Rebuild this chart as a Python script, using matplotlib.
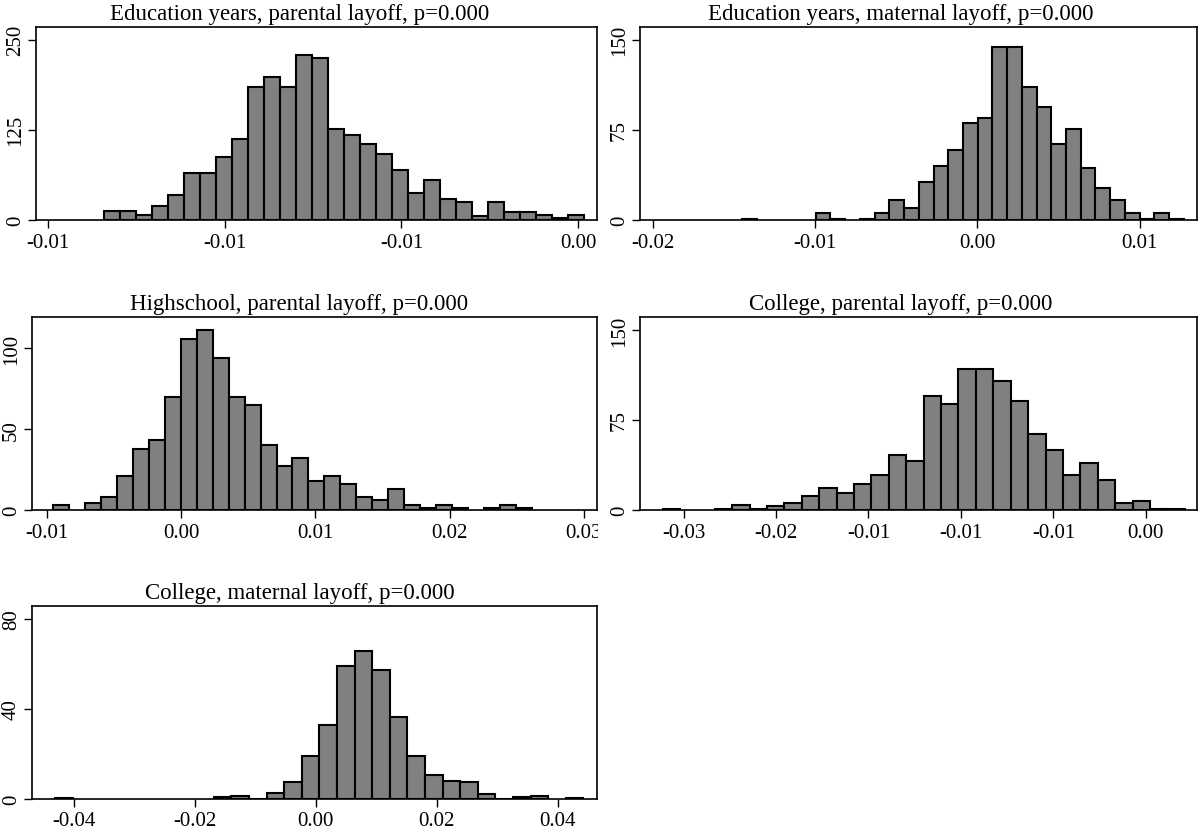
import matplotlib
matplotlib.use("Agg")
import matplotlib.pyplot as plt
import numpy as np
from matplotlib.transforms import Bbox, TransformedBbox

plt.rcParams['font.family'] = ['Liberation Serif', 'DejaVu Serif']

# ---------------- data ----------------
titles = [
    "Education years, parental layoff, p=0.000",
    "Education years, maternal layoff, p=0.000",
    "Highschool, parental layoff, p=0.000",
    "College, parental layoff, p=0.000",
    "College, maternal layoff, p=0.000",
]

# Panel 1: Education years, parental layoff
edu_par_counts = [12, 12, 7, 20, 34, 65, 65, 87, 113, 184, 198, 184, 229, 225, 126,
                  118, 105, 92, 69, 38, 56, 29, 25, 6, 25, 11, 11, 7, 3, 7]
edu_par_start, edu_par_width = -0.013402, 0.0004522
edu_par_xticks = [-0.015, -0.010, -0.005, 0.0]
edu_par_xlabels = ["-0.01", "-0.01", "-0.01", "0.00"]
edu_par_yticks = [0, 125, 250]
edu_par_xlim, edu_par_ylim = (-0.01534, 0.000533), (0, 267.6)

# Panel 2: Education years, maternal layoff
edu_mat_counts = [1, 0, 0, 0, 0, 6, 1, 0, 1, 6, 17, 10, 32, 45, 58, 81, 85, 144,
                  144, 111, 94, 63, 76, 43, 27, 17, 6, 1, 6, 1]
edu_mat_start, edu_mat_width = -0.01449, 0.000907
edu_mat_xticks = [-0.02, -0.01, 0.0, 0.01]
edu_mat_xlabels = ["-0.02", "-0.01", "0.00", "0.01"]
edu_mat_yticks = [0, 75, 150]
edu_mat_xlim, edu_mat_ylim = (-0.020777, 0.01353), (0, 160.6)

# Panel 3: Highschool, parental layoff
hs_par_counts = [3, 0, 4.5, 8, 21, 38, 43, 70, 106, 111, 94, 70, 65, 40, 27, 32,
                 18, 21, 16, 8, 6, 13, 3, 1.2, 3, 1.2, 0, 1.2, 3, 1.2]
hs_par_start, hs_par_width = -0.009532, 0.0011885
hs_par_xticks = [-0.01, 0.0, 0.01, 0.02, 0.03]
hs_par_xlabels = ["-0.01", "0.00", "0.01", "0.02", "0.03"]
hs_par_yticks = [0, 50, 100]
hs_par_xlim, hs_par_ylim = (-0.011116, 0.030986), (0, 119.3)

# Panel 4: College, parental layoff
col_par_counts = [1, 0, 0, 1, 4, 1, 3.5, 6, 12, 18, 14, 22, 29, 46, 41, 95, 88,
                  117.5, 117.5, 107.5, 90.5, 63, 50, 29, 39, 25, 5.5, 7.5, 1, 1]
col_par_start, col_par_width = -0.026135, 0.0009414
col_par_xticks = [-0.025, -0.020, -0.015, -0.010, -0.005, 0.0]
col_par_xlabels = ["-0.03", "-0.02", "-0.01", "-0.01", "-0.01", "0.00"]
col_par_yticks = [0, 75, 150]
col_par_xlim, col_par_ylim = (-0.027353, 0.002766), (0, 160.8)

# Panel 5: College, maternal layoff
col_mat_counts = [0.4, 0, 0, 0, 0, 0, 0, 0, 0, 0.7, 1.5, 0.2, 2.8, 7.4, 19, 33,
                  59, 65.8, 57, 36.5, 19, 10.8, 8, 7.4, 2.3, 0.2, 0.8, 1.5, 0, 0.4]
col_mat_start, col_mat_width = -0.043067, 0.0029118
col_mat_xticks = [-0.04, -0.02, 0.0, 0.02, 0.04]
col_mat_xlabels = ["-0.04", "-0.02", "0.00", "0.02", "0.04"]
col_mat_yticks = [0, 40, 80]
col_mat_xlim, col_mat_ylim = (-0.0469, 0.04652), (0, 85.6)

panels = [
    (edu_par_counts, edu_par_start, edu_par_width, edu_par_xticks, edu_par_xlabels,
     edu_par_yticks, edu_par_xlim, edu_par_ylim),
    (edu_mat_counts, edu_mat_start, edu_mat_width, edu_mat_xticks, edu_mat_xlabels,
     edu_mat_yticks, edu_mat_xlim, edu_mat_ylim),
    (hs_par_counts, hs_par_start, hs_par_width, hs_par_xticks, hs_par_xlabels,
     hs_par_yticks, hs_par_xlim, hs_par_ylim),
    (col_par_counts, col_par_start, col_par_width, col_par_xticks, col_par_xlabels,
     col_par_yticks, col_par_xlim, col_par_ylim),
    (col_mat_counts, col_mat_start, col_mat_width, col_mat_xticks, col_mat_xlabels,
     col_mat_yticks, col_mat_xlim, col_mat_ylim),
]

# ---------------- layout (pixels: left, top, right, bottom) ----------------
W, H = 1201, 837
boxes = [
    (36, 28, 597, 221),
    (640, 28, 1197, 221),
    (32, 318, 597, 511),
    (640, 318, 1197, 511),
    (32, 607, 597, 800),
]
# sub-graph cells (x-range in pixels), used for title centring and clipping
cells = [(0, 600), (600, 1201), (0, 598), (600, 1201), (0, 600)]

fig = plt.figure(figsize=(W / 100, H / 100), dpi=100)

for i, (pan, box, cell) in enumerate(zip(panels, boxes, cells)):
    counts, start, width, xt, xl, yt, xlim, ylim = pan
    l, t, r, b = box
    ax = fig.add_axes([l / W, 1 - b / H, (r - l) / W, (b - t) / H])
    counts = np.asarray(counts, dtype=float)
    edges = start + width * np.arange(len(counts))
    mask = counts > 0
    ax.bar(edges[mask], counts[mask], width=width, align='edge',
           color='#808080', edgecolor='black', linewidth=1.5, zorder=2)
    ax.set_xlim(*xlim)
    ax.set_ylim(*ylim)
    ax.set_xticks(xt)
    ax.set_xticklabels(xl)
    ax.set_yticks(yt)
    ax.set_yticklabels([str(v) for v in yt], rotation=90, va='center')
    for sp in ax.spines.values():
        sp.set_linewidth(1.2)
        sp.set_color('black')
    ax.tick_params(axis='both', direction='out', length=6, width=1.0,
                   labelsize=15, colors='black')
    ax.tick_params(axis='x', pad=3)
    ax.tick_params(axis='y', pad=2)
    cx = ((cell[0] + cell[1]) / 2 - l) / (r - l)
    ax.set_title(titles[i], fontsize=16.5, pad=6, x=cx)
    clip = TransformedBbox(Bbox([[cell[0] / W, 0], [cell[1] / W, 1]]), fig.transFigure)
    for lab in ax.get_xticklabels():
        lab.set_clip_box(clip)
        lab.set_clip_on(True)

fig.savefig("out.png", dpi=100, facecolor='white')
